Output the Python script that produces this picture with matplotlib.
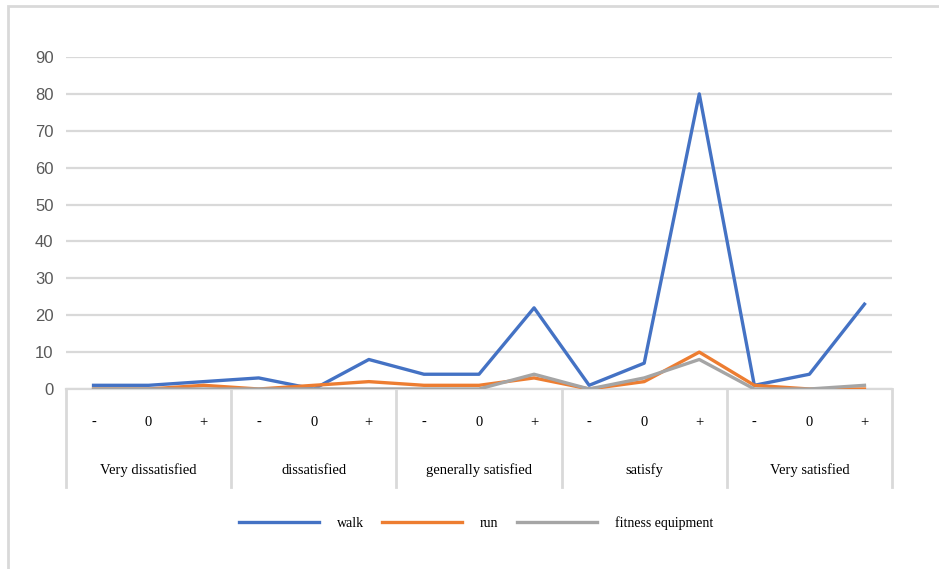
import matplotlib.pyplot as plt
from matplotlib.patches import Rectangle
from matplotlib.transforms import blended_transform_factory

groups = ['Very dissatisfied', 'dissatisfied', 'generally satisfied', 'satisfy', 'Very satisfied']
levels = ['-', '0', '+']

walk = [1, 1, 2, 3, 0, 8, 4, 4, 22, 1, 7, 80, 1, 4, 23]
run = [0, 0, 1, 0, 1, 2, 1, 1, 3, 0, 2, 10, 1, 0, 0]
fitness = [0, 0, 0, 0, 0, 0, 0, 0, 4, 0, 3, 8, 0, 0, 1]

fig = plt.figure(figsize=(9.39, 5.69), dpi=100)
ax = fig.add_axes([66/939, 1-389/569, (892-66)/939, (389-57)/569])

x = list(range(len(walk)))
ax.plot(x, walk, color='#4472C4', lw=2.4, label='walk', zorder=3)
ax.plot(x, run, color='#ED7D31', lw=2.4, label='run', zorder=3)
ax.plot(x, fitness, color='#A5A5A5', lw=2.4, label='fitness equipment', zorder=3)

ax.set_xlim(-0.5, len(walk) - 0.5)
ax.set_ylim(0, 90)
ax.set_yticks(range(0, 91, 10))
ax.yaxis.grid(True, color='#d9d9d9', lw=1.6)
ax.set_axisbelow(True)
ax.tick_params(axis='y', length=0, pad=9, labelsize=12, labelcolor='#595959')
ax.set_xticks([])
for s in ['top', 'right', 'left']:
    ax.spines[s].set_visible(False)
ax.spines['bottom'].set_color('#d9d9d9')
ax.spines['bottom'].set_linewidth(1.6)
for lab in ax.get_yticklabels():
    lab.set_family('Liberation Sans')

# two level category axis
trans = blended_transform_factory(ax.transData, ax.transAxes)
for g in range(len(groups) + 1):
    ax.plot([g*3 - 0.5, g*3 - 0.5], [0, -0.295], transform=trans, color='#d9d9d9', lw=2, clip_on=False)
for g, name in enumerate(groups):
    for i, lv in enumerate(levels):
        ax.text(g*3 + i, -0.1, lv, transform=trans, ha='center', va='center',
                family='Liberation Serif', fontsize=10.5)
    ax.text(g*3 + 1, -0.245, name, transform=trans, ha='center', va='center',
            family='Liberation Serif', fontsize=10.5)

fig.legend(loc='center', bbox_to_anchor=(476/939, 1-523/569), ncol=3, frameon=False,
           handlelength=5.75, handletextpad=1.3, columnspacing=1.3,
           prop={'family': 'Liberation Serif', 'size': 10})

# outer chart border
fig.patches.append(Rectangle((8/939, -0.05), 1.1, 1-6/569+0.05, transform=fig.transFigure,
                             fill=False, edgecolor='#d9d9d9', lw=2))

fig.savefig('out.png', dpi=100)
